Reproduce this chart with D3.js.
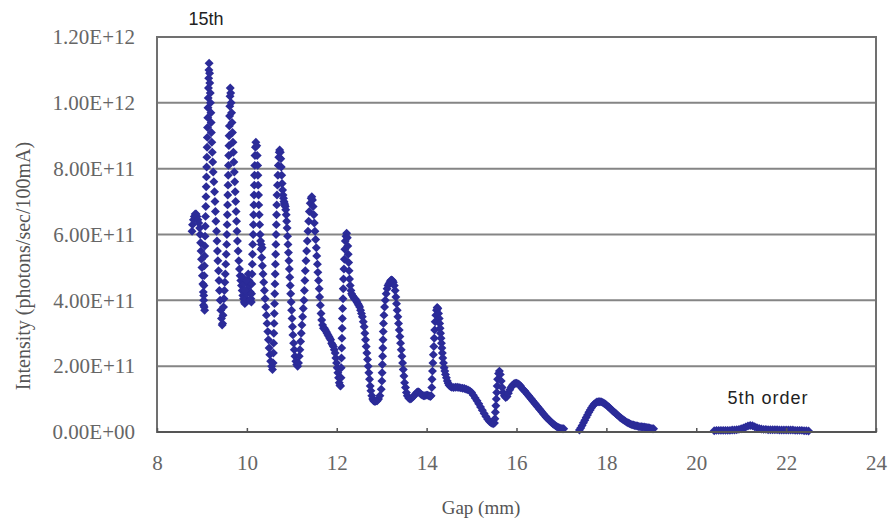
<!DOCTYPE html>
<html><head><meta charset="utf-8">
<script src="https://cdn.jsdelivr.net/npm/d3@7"></script>
<style>html,body{margin:0;padding:0;background:#fff}</style>
</head><body>
<svg id="chart" width="889" height="520"></svg>
<script>
// ---- data (gap in mm, intensity in units of 1e11 photons/sec/100mA) ----
const UNIT = 1e11;
const xTickValues = [8, 10, 12, 14, 16, 18, 20, 22, 24];
const yTickValues = [0, 2e11, 4e11, 6e11, 8e11, 1e12, 1.2e12];
const yTickLabels = ["0.00E+00", "2.00E+11", "4.00E+11", "6.00E+11", "8.00E+11", "1.00E+12", "1.20E+12"];
const xTitle = "Gap (mm)";
const yTitle = "Intensity (photons/sec/100mA)";
const labelHigh = "15th";
const labelLow = "5th order";

const h16 = [[8.78,6.1],[8.79,6.3],[8.81,6.45],[8.83,6.55],[8.85,6.62],[8.87,6.62],[8.89,6.55],[8.91,6.45],[8.93,6.35],[8.95,6.2],[8.96,6.0],[8.97,5.75],[8.98,5.5],[8.99,5.25],[9.0,5.0],[9.01,4.75],[9.02,4.5],[9.03,4.25],[9.04,4.0],[9.05,3.8],[9.06,3.7]];
const h15 = [[9.035,3.85],[9.04,4.15],[9.045,4.45],[9.05,4.75],[9.055,5.05],[9.06,5.35],[9.065,5.65],[9.07,5.95],[9.075,6.25],[9.08,6.55],[9.085,6.85],[9.09,7.15],[9.095,7.45],[9.1,7.75],[9.105,8.05],[9.11,8.35],[9.115,8.65],[9.12,8.95],[9.125,9.25],[9.13,9.55],[9.135,9.85],[9.14,10.15],[9.145,10.45],[9.15,10.75],[9.155,11.0],[9.16,11.2],
  [9.17,10.9],[9.175,10.6],[9.185,10.3],[9.19,10.0],[9.2,9.7],[9.205,9.4],[9.21,9.1],[9.22,8.8],[9.23,8.5],[9.24,8.2],[9.25,7.9],[9.265,7.6],[9.28,7.3],[9.29,7.0],[9.3,6.7],[9.31,6.4],[9.325,6.1],[9.335,5.8],[9.345,5.5],[9.355,5.2],[9.37,4.9],[9.38,4.6],[9.39,4.3],[9.405,4.0],[9.42,3.7],[9.435,3.45],[9.45,3.25]];
const h14 = [[9.46,3.3],[9.47,3.55],[9.48,3.8],[9.49,4.05],[9.5,4.3],[9.51,4.55],[9.52,4.8],[9.53,5.1],[9.54,5.4],[9.55,5.7],[9.555,6.0],[9.56,6.3],[9.565,6.6],[9.57,6.9],[9.575,7.2],[9.58,7.5],[9.585,7.8],[9.59,8.1],[9.595,8.4],[9.6,8.7],[9.605,9.0],[9.61,9.3],[9.615,9.6],[9.62,9.9],[9.625,10.2],[9.63,10.45],
  [9.64,10.3],[9.65,10.0],[9.66,9.7],[9.67,9.4],[9.68,9.1],[9.69,8.8],[9.7,8.5],[9.71,8.2],[9.72,7.9],[9.73,7.6],[9.74,7.3],[9.75,7.0],[9.76,6.7],[9.77,6.4],[9.78,6.1],[9.79,5.8],[9.805,5.5],[9.82,5.2],[9.835,4.95],[9.85,4.75],[9.865,4.6],
  [9.88,4.45],[9.895,4.3],[9.91,4.15],[9.925,4.05],[9.94,3.95],[9.955,3.9],[9.97,3.95],[9.985,4.05],[10.0,4.2],[10.015,4.35],[10.03,4.5],[10.045,4.6],[10.06,4.45],[10.075,4.25],[10.09,4.05],[10.1,3.95],[9.9,4.7],[9.93,4.5],[9.96,4.3],[10.0,4.6],[10.03,4.8],[10.07,4.0]];
const h13 = [[10.105,4.2],[10.11,4.5],[10.115,4.8],[10.12,5.1],[10.125,5.4],[10.13,5.7],[10.14,6.0],[10.145,6.3],[10.15,6.6],[10.155,6.9],[10.16,7.2],[10.165,7.5],[10.17,7.8],[10.175,8.1],[10.18,8.4],[10.19,8.65],[10.2,8.8],
  [10.22,8.7],[10.23,8.4],[10.24,8.1],[10.245,7.8],[10.25,7.5],[10.26,7.2],[10.265,6.9],[10.275,6.6],[10.285,6.3],[10.295,6.0],[10.305,5.8],[10.315,5.55],[10.32,5.7],[10.33,5.3],[10.34,5.6],[10.345,5.05],[10.36,4.8],[10.375,4.55],[10.39,4.3],[10.405,4.05],[10.42,3.8],[10.435,3.55],[10.45,3.3],[10.465,3.05],[10.48,2.8],[10.495,2.55],[10.51,2.35],[10.53,2.15],[10.55,2.0],[10.57,1.9]];
const h12 = [[10.585,2.1],[10.59,2.4],[10.595,2.7],[10.6,3.0],[10.605,3.3],[10.61,3.6],[10.615,3.9],[10.62,4.2],[10.625,4.5],[10.63,4.8],[10.635,5.1],[10.64,5.4],[10.645,5.7],[10.65,6.0],[10.655,6.3],[10.66,6.6],[10.665,6.9],[10.67,7.2],[10.68,7.5],[10.69,7.8],[10.7,8.1],[10.71,8.35],[10.72,8.5],[10.73,8.57],
  [10.745,8.5],[10.755,8.3],[10.765,8.05],[10.775,7.8],[10.785,7.55],[10.795,7.35],[10.805,7.2],[10.815,7.1],[10.825,7.0],[10.835,6.95],[10.845,6.9],[10.855,6.85],[10.865,6.75],[10.875,6.6],[10.885,6.4],[10.895,6.2],[10.905,5.95],[10.915,5.7],[10.925,5.45],[10.935,5.2],[10.945,4.95],[10.955,4.7],[10.965,4.45],[10.975,4.2],[10.985,3.95],[10.995,3.7],[11.005,3.45],[11.015,3.2],[11.025,2.95],[11.04,2.7],[11.055,2.5],[11.07,2.3],[11.09,2.15],[11.11,2.05],[11.13,2.0]];
const h11 = [[11.15,2.1],[11.165,2.3],[11.18,2.5],[11.195,2.75],[11.21,3.0],[11.225,3.25],[11.24,3.5],[11.255,3.75],[11.27,4.0],[11.28,4.3],[11.29,4.6],[11.3,4.9],[11.315,5.2],[11.33,5.5],[11.345,5.8],[11.36,6.1],[11.375,6.4],[11.39,6.7],[11.41,6.95],[11.43,7.1],[11.445,7.15],
  [11.46,7.05],[11.475,6.85],[11.49,6.6],[11.5,6.35],[11.515,6.1],[11.53,5.85],[11.545,5.6],[11.555,5.35],[11.57,5.1],[11.58,4.85],[11.595,4.6],[11.61,4.35],[11.62,4.1],[11.635,3.85],[11.65,3.6],[11.665,3.4],[11.685,3.25],[11.705,3.15],
  [11.725,3.15],[11.745,3.1],[11.765,3.05],[11.785,3.0],[11.805,2.95],[11.825,2.9],[11.845,2.85],[11.865,2.8],[11.885,2.7],[11.905,2.65],[11.925,2.6],[11.945,2.5],[11.965,2.4],[11.98,2.25],[11.995,2.1],[12.01,1.95],[12.025,1.8],[12.04,1.65],[12.055,1.5],[12.07,1.42],[12.085,1.4]];
const h10 = [[12.095,1.65],[12.1,1.95],[12.105,2.25],[12.11,2.55],[12.115,2.85],[12.12,3.15],[12.125,3.45],[12.13,3.75],[12.14,4.05],[12.145,4.35],[12.15,4.65],[12.16,4.95],[12.17,5.25],[12.18,5.55],[12.19,5.8],[12.205,5.95],[12.22,6.04],
  [12.235,5.9],[12.245,5.65],[12.255,5.4],[12.265,5.15],[12.275,4.9],[12.285,4.65],[12.3,4.45],[12.315,4.3],[12.33,4.2],[12.35,4.15],[12.37,4.1],[12.39,4.05],[12.41,4.05],[12.43,4.0],[12.45,3.95],[12.47,3.9],[12.49,3.85],[12.51,3.8],[12.53,3.7],[12.55,3.6],[12.57,3.5],[12.59,3.35],[12.61,3.2],[12.625,3.0],[12.64,2.8],[12.655,2.6],[12.67,2.4],[12.685,2.2],[12.7,2.0],[12.715,1.8],[12.73,1.6],[12.745,1.4],[12.76,1.25],[12.78,1.1],[12.8,1.0],[12.82,0.95],[12.84,0.93],[12.86,0.93],[12.88,0.95]];
const h9 = [[12.9,0.95],[12.93,1.0],[12.96,1.1],[12.99,1.3],[13.005,1.55],[13.01,1.8],[13.015,2.05],[13.02,2.3],[13.025,2.55],[13.03,2.8],[13.035,3.05],[13.04,3.3],[13.05,3.55],[13.065,3.8],[13.08,4.0],[13.1,4.2],[13.12,4.35],[13.14,4.45],[13.16,4.5],[13.18,4.55],[13.2,4.6],[13.22,4.62],[13.24,4.6],
  [13.26,4.55],[13.28,4.45],[13.3,4.3],[13.315,4.1],[13.33,3.9],[13.345,3.7],[13.36,3.5],[13.375,3.3],[13.39,3.1],[13.405,2.9],[13.42,2.7],[13.435,2.5],[13.45,2.3],[13.465,2.1],[13.48,1.9],[13.495,1.7],[13.51,1.5],[13.53,1.35],[13.55,1.2],[13.57,1.1],[13.6,1.03],
  [13.63,1.0],[13.66,1.02],[13.69,1.06],[13.72,1.1],[13.75,1.15],[13.78,1.2],[13.81,1.22],[13.84,1.2],[13.87,1.15],[13.9,1.12],[13.93,1.1],[13.96,1.1],[13.99,1.12],[14.02,1.12],[14.05,1.1],[14.08,1.08],[14.1,1.1]];
const h8 = [[14.115,1.35],[14.12,1.6],[14.13,1.85],[14.14,2.1],[14.15,2.35],[14.16,2.6],[14.17,2.85],[14.18,3.1],[14.19,3.35],[14.205,3.55],[14.22,3.7],[14.235,3.78],[14.25,3.75],
  [14.265,3.6],[14.28,3.45],[14.29,3.3],[14.3,3.15],[14.31,3.0],[14.32,2.85],[14.33,2.7],[14.34,2.55],[14.35,2.4],[14.36,2.25],[14.375,2.1],[14.39,1.95],[14.405,1.85],[14.42,1.75],[14.44,1.65],[14.46,1.55],[14.48,1.48],[14.5,1.42],[14.53,1.38],[14.56,1.36],
  [14.6,1.35],[14.64,1.36],[14.68,1.36],[14.72,1.35],[14.76,1.34],[14.8,1.33],[14.84,1.32],[14.88,1.3],[14.92,1.28],[14.96,1.25],[15.0,1.2],[15.04,1.12],[15.08,1.03],[15.12,0.95],[15.16,0.86],[15.2,0.76],[15.24,0.66],[15.28,0.56],[15.32,0.47],[15.36,0.39],[15.4,0.32],[15.44,0.27],[15.48,0.25],[15.51,0.27]];
const h7 = [[15.52,0.4],[15.53,0.6],[15.54,0.8],[15.55,1.0],[15.56,1.2],[15.57,1.4],[15.58,1.6],[15.6,1.78],[15.62,1.85],[15.64,1.75],[15.66,1.55],[15.68,1.35],[15.7,1.2],[15.73,1.1],[15.76,1.05],[15.79,1.08],[15.82,1.18],[15.85,1.28],[15.88,1.36],[15.91,1.42],[15.94,1.46],[15.97,1.48],[16.0,1.48],[16.03,1.47],[16.06,1.44],[16.09,1.4],
  [16.12,1.33],[16.15,1.29],[16.18,1.25],[16.21,1.2],[16.24,1.15],[16.27,1.1],[16.3,1.05],[16.33,1.0],[16.36,0.95],[16.39,0.9],[16.42,0.85],[16.45,0.8],[16.48,0.75],[16.51,0.7],[16.54,0.65],[16.57,0.6],[16.6,0.55],[16.63,0.5],[16.66,0.45],[16.69,0.41],[16.72,0.37],[16.75,0.33],[16.78,0.29],[16.81,0.25],[16.84,0.22],[16.87,0.19],[16.9,0.16],[16.93,0.14],[16.96,0.12],[16.99,0.11],[17.02,0.1],[17.05,0.1]];
const h6 = [[17.4,0.06],[17.43,0.12],[17.46,0.2],[17.49,0.28],[17.52,0.36],[17.55,0.44],[17.58,0.52],[17.61,0.6],[17.64,0.67],[17.67,0.74],[17.7,0.8],[17.73,0.85],[17.76,0.88],[17.79,0.91],[17.82,0.92],[17.85,0.92],[17.88,0.92],[17.91,0.9],[17.94,0.88],[17.97,0.85],[18.0,0.82],[18.03,0.78],[18.06,0.75],[18.09,0.71],[18.12,0.67],[18.15,0.63],[18.18,0.6],[18.21,0.56],[18.24,0.52],[18.27,0.49],[18.3,0.45],[18.33,0.42],[18.36,0.39],[18.39,0.36],[18.42,0.33],[18.45,0.3],[18.48,0.28],[18.51,0.26],[18.54,0.24],[18.57,0.22],[18.6,0.21],[18.63,0.2],[18.66,0.19],[18.69,0.18],[18.72,0.17],[18.75,0.16],[18.78,0.16],[18.81,0.15],[18.84,0.15],[18.87,0.14],[18.9,0.14],[18.93,0.13],[18.96,0.12],[18.99,0.11],[19.02,0.1],[19.05,0.1]];
const h5 = [[20.4,0.04],[20.45,0.05],[20.5,0.05],[20.55,0.05],[20.6,0.05],[20.65,0.05],[20.7,0.05],[20.75,0.05],[20.8,0.06],[20.85,0.06],[20.9,0.07],[20.95,0.08],[21.0,0.1],[21.05,0.12],[21.1,0.15],[21.15,0.18],[21.2,0.2],[21.25,0.19],[21.3,0.16],[21.35,0.13],[21.4,0.11],[21.45,0.09],[21.5,0.08],[21.55,0.08],[21.6,0.07],[21.65,0.07],[21.7,0.07],[21.75,0.07],[21.8,0.07],[21.85,0.06],[21.9,0.06],[21.95,0.06],[22.0,0.06],[22.05,0.06],[22.1,0.06],[22.15,0.06],[22.2,0.05],[22.25,0.05],[22.3,0.05],[22.35,0.05],[22.4,0.04],[22.45,0.04],[22.5,0.03]];

const harmonics = [h16, h15, h14, h13, h12, h11, h10, h9, h8, h7, h6, h5];

// ---- drawing ----
const svg = d3.select("#chart");
const pL = 157, pR = 876, pT = 37, pB = 432;
const x = d3.scaleLinear().domain([8, 24]).range([pL, pR]);
const y = d3.scaleLinear().domain([0, 1.2e12]).range([pB, pT]);

svg.append("rect").attr("width", 889).attr("height", 520).attr("fill", "#fff");

// gridlines
svg.append("g").selectAll("line").data(yTickValues.filter(v => v > 0 && v < 1.2e12)).join("line")
  .attr("x1", pL).attr("x2", pR).attr("y1", d => y(d)).attr("y2", d => y(d))
  .attr("stroke", "#858585").attr("stroke-width", 2);

// frame
svg.append("rect").attr("x", pL).attr("y", pT).attr("width", pR - pL).attr("height", pB - pT)
  .attr("fill", "none").attr("stroke", "#707070").attr("stroke-width", 2);

// points
const pts = harmonics.flatMap(h => h.map(d => ({g: d[0], v: d[1] * UNIT})));
const sym = d3.symbol().type(d3.symbolSquare).size(40)();
svg.append("g").selectAll("path").data(pts).join("path")
  .attr("d", sym)
  .attr("transform", d => `translate(${x(d.g)},${y(d.v)}) rotate(45)`)
  .attr("fill", "#2b2b98");

// bottom axis line and inner ticks
svg.append("line").attr("x1", pL).attr("x2", pR).attr("y1", pB).attr("y2", pB)
  .attr("stroke", "#555").attr("stroke-width", 2);
const xAxis = d3.axisBottom(x).tickValues(xTickValues).tickSizeInner(-4).tickSizeOuter(0).tickFormat(d3.format("d"));
const gx = svg.append("g").attr("transform", `translate(0,${pB})`).call(xAxis);
gx.select(".domain").remove();
gx.selectAll(".tick line").attr("stroke", "#555").attr("stroke-width", 1.5);
gx.selectAll(".tick text").attr("dy", null).attr("y", 38)
  .attr("font-family", "'Liberation Serif', 'Times New Roman', serif").attr("font-size", 21).attr("fill", "#666");

// left axis labels
const yAxis = d3.axisLeft(y).tickValues(yTickValues).tickSize(0).tickPadding(22)
  .tickFormat((d, i) => yTickLabels[i]);
const gy = svg.append("g").attr("transform", `translate(${pL},0)`).call(yAxis);
gy.select(".domain").remove();
gy.selectAll(".tick text").attr("font-family", "'Liberation Serif', 'Times New Roman', serif")
  .attr("font-size", 21).attr("fill", "#666");

// titles
svg.append("text").attr("x", 481).attr("y", 514).attr("text-anchor", "middle")
  .attr("font-family", "'Liberation Serif', 'Times New Roman', serif").attr("font-size", 19).attr("fill", "#555").text(xTitle);
svg.append("text").attr("transform", "translate(30,266) rotate(-90)").attr("text-anchor", "middle")
  .attr("font-family", "'Liberation Serif', 'Times New Roman', serif").attr("font-size", 20).attr("fill", "#555").text(yTitle);

// annotations
svg.append("text").attr("x", 206).attr("y", 25).attr("text-anchor", "middle")
  .attr("font-family", "'Liberation Sans', Arial, sans-serif").attr("font-size", 18).attr("fill", "#222").text(labelHigh);
svg.append("text").attr("x", 768).attr("y", 404).attr("text-anchor", "middle")
  .attr("font-family", "'Liberation Sans', Arial, sans-serif").attr("font-size", 18).attr("letter-spacing", 1)
  .attr("fill", "#222").text(labelLow);
</script>
</body></html>
